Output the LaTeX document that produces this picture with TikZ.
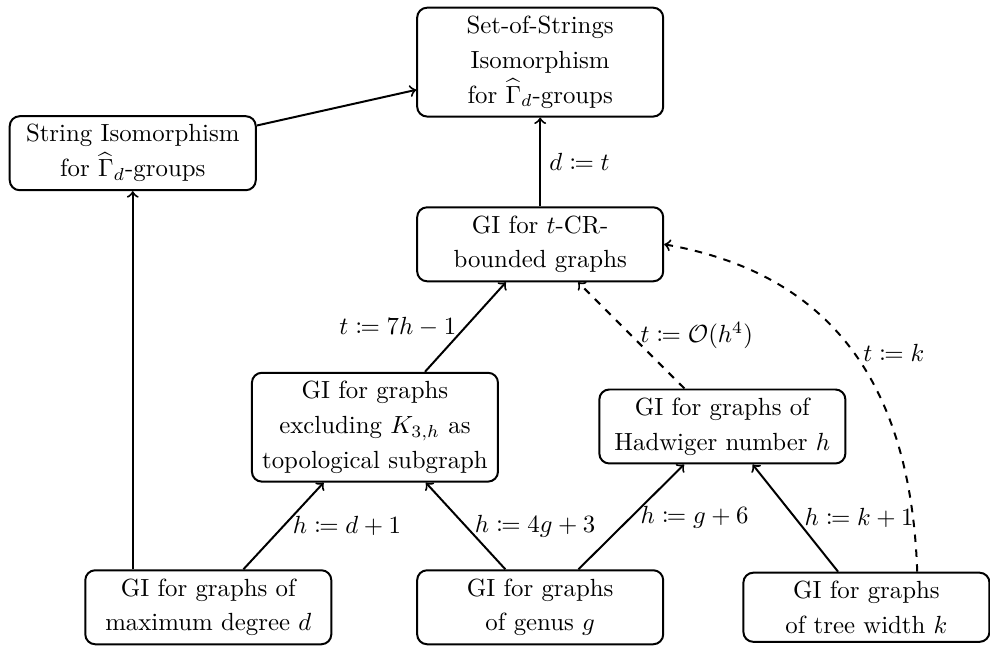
\documentclass[tikz,border=0pt]{standalone}
\usepackage{amsmath,amssymb,mathtools}
\usetikzlibrary{positioning}
\tikzset{
    prob/.style={draw, thick, rounded corners, align=center, text width=3.25cm, font=\linespread{1.17}\selectfont},
    reduc/.style={->, thick},
    reducD/.style={->, thick, dashed},
    node distance=2.5cm
}

\begin{document}
\begin{tikzpicture}[on grid, auto]
  \useasboundingbox (-7.65,-0.56) rectangle (6.37,8.60);
  \node[prob] (gen) {GI for graphs\\ of genus $g$};
  \node[prob, left = 4.7cm of gen] (md) {GI for graphs of\\ maximum degree $d$};
  \node[prob, right = 4.62cm of gen] (tw) {GI for graphs\\ of tree width $k$};
  \node[prob, above left = 2.55cm and 2.34cm of gen] (kh) {GI for graphs\\ excluding $K_{3,h}$ as\\ topological subgraph};
  \node[prob, above right = 2.56cm and 2.58cm of gen] (hw) {GI for graphs of\\ Hadwiger number $h$};
  \node[prob, above = 5.14cm of gen] (cr) {GI for $t$-CR-\\ bounded graphs};
  \node[prob, above = 2.58cm of cr] (sos) {Set-of-Strings\\ Isomorphism\\ for $\widehat{\Gamma}_d$-groups};
  \node[prob, below left = 1.29cm and 5.77cm of sos] (si) {String Isomorphism\\ for $\widehat{\Gamma}_d$-groups};

  \draw
  (si) edge[reduc] (sos)
  (md.north -| si) edge[reduc] (si)
  (cr) edge[reduc] node[right] {$d \coloneqq t$} (sos)
  (kh) edge[reduc] node[left] {$t \coloneqq 7h-1$} (cr)
  (hw) edge[reducD] node[right] {$t \coloneqq \mathcal{O}(h^4)$} (cr)
  (tw.35) edge[reducD, out=92, in=-10, looseness=1.1] node[right] {$t \coloneqq k$} (cr.east)
  (md) edge[reduc] node[right] {$h \coloneqq d+1$} (kh)
  (gen) edge[reduc] node[right] {$h \coloneqq 4g+3$} (kh)
  (gen) edge[reduc] node[right] {$h \coloneqq g+6$} (hw)
  (tw) edge[reduc] node[right] {$h \coloneqq k+1$} (hw)
  ;
\end{tikzpicture}
\end{document}
